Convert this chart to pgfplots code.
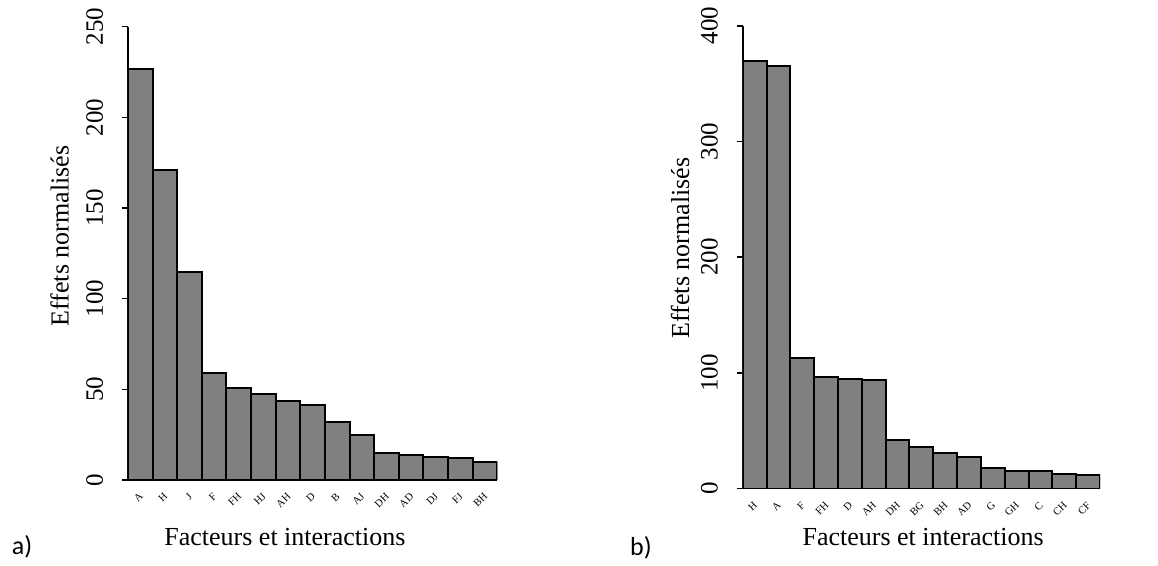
\documentclass[border=0pt]{standalone}
\usepackage{fontspec}
\setmainfont{Liberation Serif}
\newfontfamily\panelfont{Carlito}
\usepackage{pgfplots}
\pgfplotsset{compat=1.18}

\definecolor{bargray}{HTML}{808080}

\pgfplotsset{
  pareto/.style={
    scale only axis,
    axis lines=left,
    axis line style={-, line width=0.8pt},
    tick align=outside,
    every tick/.style={black, line width=0.8pt},
    major tick length=3pt,
    minor tick length=2pt,
    xmin=0, xmax=15, ymin=0,
    ybar, bar width=1,
    xtick=\empty,
    minor xtick={0,...,15},
    extra x ticks={0.5,1.5,...,14.5},
    extra x tick style={major tick length=0pt,
      xticklabel style={font=\fontsize{5.3}{6}\selectfont, inner sep=0pt,
        xshift=0.5pt, yshift=-7.3pt, rotate=45, anchor=east}},
    yticklabel style={/pgf/number format/assume math mode=true,
      font=\fontsize{12.5}{13}\selectfont, inner sep=0pt,
      xshift=-9.5pt, rotate=90, anchor=base},
  }
}

\begin{document}
\begin{tikzpicture}
\useasboundingbox (0,0) rectangle (579pt,-283pt);

% a)
\begin{axis}[pareto,
  at={(64pt,-240pt)}, anchor=south west,
  width=184.65pt, height=226.67pt,
  ymax=250, ytick={0,50,...,250},
  extra x tick labels={A,H,J,F,FH,HJ,AH,D,B,AJ,DH,AD,DJ,FJ,BH},
  xlabel={Facteurs et interactions},
  ylabel={Effets normalisés},
  every axis x label/.style={at={(axis description cs:0.425,-0.1257)}, anchor=center,
    font=\fontsize{13}{15}\selectfont},
  every axis y label/.style={at={(axis description cs:-0.185,0.538)}, rotate=90, anchor=center,
    font=\fontsize{13}{15}\selectfont},
]
\addplot[fill=bargray, draw=black, line width=1pt] coordinates {
  (0.5,226.6) (1.5,171.0) (2.5,114.5) (3.5,59.0) (4.5,51.0)
  (5.5,47.2) (6.5,43.8) (7.5,41.2) (8.5,32.0) (9.5,25.0)
  (10.5,15.1) (11.5,13.8) (12.5,12.9) (13.5,12.0) (14.5,10.1)
};
\end{axis}

% b)
\begin{axis}[pareto,
  at={(371.35pt,-244.35pt)}, anchor=south west,
  width=178.65pt, height=231.5pt,
  ymax=400, ytick={0,100,...,400},
  extra x tick labels={H,A,F,FH,D,AH,DH,BG,BH,AD,G,GH,C,CH,CF},
  xlabel={Facteurs et interactions},
  ylabel={Effets normalisés},
  every axis x label/.style={at={(axis description cs:0.505,-0.1043)}, anchor=center,
    font=\fontsize{13}{15}\selectfont},
  every axis y label/.style={at={(axis description cs:-0.1755,0.52)}, rotate=90, anchor=center,
    font=\fontsize{13}{15}\selectfont},
]
\addplot[fill=bargray, draw=black, line width=1pt] coordinates {
  (0.5,369.2) (1.5,365.0) (2.5,113.2) (3.5,96.5) (4.5,95.0)
  (5.5,93.9) (6.5,42.0) (7.5,36.3) (8.5,30.5) (9.5,27.6)
  (10.5,18.1) (11.5,15.3) (12.5,15.0) (13.5,12.7) (14.5,11.8)
};
\end{axis}

\node[font=\panelfont\fontsize{13}{15}\selectfont] at (11pt,-273.5pt) {a)};
\node[font=\panelfont\fontsize{13}{15}\selectfont] at (320.5pt,-274pt) {b)};
\end{tikzpicture}
\end{document}
